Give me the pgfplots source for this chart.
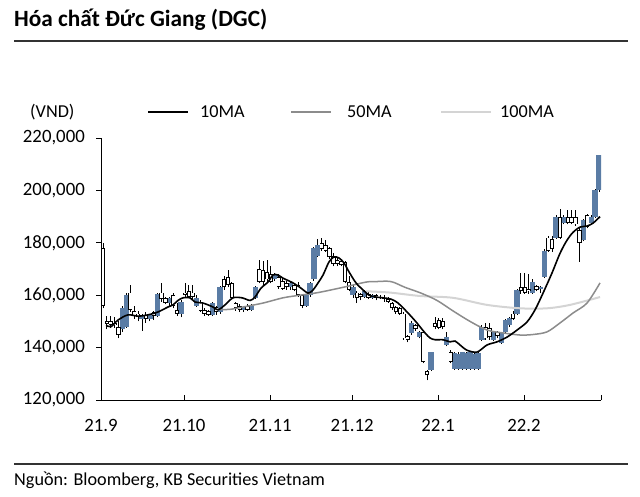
\documentclass[border=0pt]{standalone}
\usepackage{fontspec}
\setmainfont{Carlito}
\usepackage{pgfplots}
\usepackage{pgfplotstable}
\pgfplotsset{compat=1.18}
\definecolor{candleblue}{RGB}{90,124,165}
\definecolor{magray}{RGB}{140,140,140}
\definecolor{malight}{RGB}{212,212,212}

% up (blue) candles: x o h l c
\pgfplotstableread{
x o h l c
5.5 147000 156000 146000 155000
6.5 148000 161000 147500 160000
10.5 151000 153000 146500 152000
12.5 151000 153000 150000 152500
14.5 152000 161000 151500 160500
17.5 157000 159500 156000 159000
20.5 153000 158000 151500 157500
24.5 156000 160000 155500 159000
28.5 152500 157500 152000 157000
30.5 153500 163500 153000 163000
36.5 154500 156000 153500 155500
38.5 154500 156500 154000 156000
39.5 159000 163500 158500 163000
44.5 166000 168500 165500 168000
48.5 163000 165000 162000 164500
52.5 156000 160500 155500 160000
53.5 160000 165000 159500 164500
54.5 166000 178500 165500 178000
55.5 175000 181500 174500 179000
64.5 160000 164000 159000 163000
67.5 159500 162000 159000 161500
69.5 159000 160500 158500 160000
71.5 159000 160000 158500 159500
79.5 145500 150000 145000 149500
81.5 144000 146500 143500 146000
84.5 131500 138500 131000 138300
88.5 141000 146000 140500 144000
90.5 132000 138300 131500 138000
91.5 132000 138300 131500 137500
92.5 132000 138300 131500 138300
93.5 132000 138300 131500 137800
94.5 132000 138300 131500 138300
95.5 132000 138300 131500 137500
96.5 132000 138300 131500 138000
97.5 143000 148500 142500 148000
100.5 143000 146500 142500 146000
102.5 141800 146000 141500 145600
103.5 146000 151000 145500 150500
104.5 148600 151500 148000 151300
106.5 153000 162500 152500 162000
110.5 161000 166000 160500 165000
112.5 162500 163500 161000 163000
113.5 167000 177500 166500 177000
116.5 182000 190500 181500 190000
118.5 187500 190500 187000 190000
123.5 181000 189000 180500 188700
125.5 187500 190500 187000 190000
126.5 190000 200500 189500 200000
127.5 200000 213700 199500 213500
}\updata

% down (white) candles: x o h l c
\pgfplotstableread{
x o h l c
0.5 178000 180000 155000 156000
1.5 150000 152000 147000 149000
2.5 150000 152000 147500 148500
3.5 149500 151500 147500 148500
4.5 148000 150000 143500 145000
7.5 161000 164000 153500 154500
8.5 154000 156000 151000 152000
9.5 153000 154000 150000 151500
11.5 152500 153500 149500 151000
13.5 153500 154000 150500 152000
15.5 161000 164500 157500 158500
16.5 159000 159500 156500 157000
18.5 160000 161000 155000 156000
19.5 154500 157000 152000 153000
21.5 161000 164500 159000 160000
22.5 161500 164000 159000 159500
23.5 161000 164000 158500 159500
25.5 157500 158000 153500 154000
26.5 154500 155000 152000 153000
27.5 154000 154500 152000 152500
29.5 155500 156000 152500 153500
31.5 166000 167500 162000 163000
32.5 167000 169500 163000 164000
33.5 164500 165000 158500 159000
34.5 157000 157500 154000 155000
35.5 156000 156500 153500 154500
37.5 156000 156500 154000 154500
40.5 170000 173500 164500 165000
41.5 169500 173000 164000 165000
42.5 169000 173500 165000 166000
43.5 168000 171000 164500 165000
45.5 167000 168000 162500 163000
46.5 165500 167000 162000 162500
47.5 164500 165500 162000 163000
49.5 164000 164500 161500 162000
50.5 164000 165000 159500 160000
51.5 160000 160500 155000 156000
56.5 180000 181800 177000 177500
57.5 179000 181000 176500 177000
58.5 178000 178500 174000 174500
59.5 175000 176000 171000 172000
60.5 173500 174500 171000 172000
61.5 173000 173500 171000 171500
62.5 172500 173000 164500 165000
63.5 165000 167500 161500 162000
65.5 161000 161500 157000 159000
66.5 160500 161000 158000 159500
68.5 160500 161500 158500 159000
70.5 160000 160500 158000 159000
72.5 159500 160000 157500 158500
73.5 158500 159500 157000 157500
74.5 157000 157500 154500 155000
75.5 155500 156000 153000 153500
76.5 155000 155500 152500 153000
77.5 153000 153500 143000 143500
78.5 144500 145000 142000 143000
80.5 148500 149000 146500 147000
82.5 146000 146500 134000 134500
83.5 131000 131500 127500 129500
85.5 149500 151500 147000 148000
86.5 150500 151300 147000 147500
87.5 150000 151300 147000 148000
89.5 138300 139000 134000 134500
98.5 148000 149400 143000 143500
99.5 147500 149400 143000 144000
101.5 146000 146500 143500 144500
105.5 153000 154000 150500 151000
107.5 163000 168500 160500 161500
108.5 163000 168500 160500 161000
109.5 162500 168000 160500 161500
111.5 163500 164000 161500 162000
114.5 182000 182500 176500 177000
115.5 181500 182500 176500 177500
117.5 190000 193000 181500 182000
119.5 190000 192500 187000 187500
120.5 190000 192500 187000 187500
121.5 190000 192500 186500 187000
122.5 185000 185500 172700 180000
124.5 190600 191000 185500 186000
}\downdata

\pgfplotstableread{
x y
1.3 148500
2.56 148000
4.35 150500
6.91 152500
9.47 152000
12.03 152500
14.59 153600
17.15 155500
18.43 156300
19.71 158000
20.99 159000
22.79 159000
24.07 157400
26.11 157000
28.67 155500
29.95 154400
31.75 156300
33.79 159000
36.1 159000
38.15 158000
39.43 159300
40.96 162700
42.75 165000
44.03 167700
45.31 167700
46.6 166500
49.15 164700
51.2 162700
53.0 160800
54.28 162000
55.56 164700
56.84 167700
58.37 172700
59.65 174600
60.93 174200
62.21 172300
63.49 168900
65.28 164700
67.08 162000
68.61 160000
70.4 159300
72.2 159000
74.24 158500
76.04 157000
78.6 153200
80.65 149800
82.95 145600
84.23 143700
85.51 143000
87.56 143000
89.35 142200
90.63 142500
91.91 141000
93.7 139000
96.26 138300
98.82 141000
101.38 142200
103.94 144000
106.5 146700
109.06 149800
111.11 154400
113.16 160800
115.46 168500
117.51 176000
119.3 181000
120.84 184000
122.63 186000
124.42 186400
125.96 187500
127.75 190000
}\maten

\pgfplotstableread{
x y
29.7 154500
33.0 154600
36.35 155500
41.47 157000
46.6 159000
50.95 160000
55.56 161000
61.96 163000
67.84 165000
70.4 165200
74.24 165200
77.83 163000
81.92 160800
86.02 158000
90.12 154000
94.47 150000
98.82 146700
102.92 145600
107.27 144800
110.6 145000
114.18 146000
117.51 149400
120.84 153200
124.42 157000
127.75 164700
}\mafifty

\pgfplotstableread{
x y
67.84 161500
73.99 161000
81.67 159700
90.12 159000
98.82 156300
107.27 155000
114.18 155000
120.07 156300
127.75 159300
}\mahundred

\begin{document}
\begin{tikzpicture}[x=1pt,y=1pt]
\path[use as bounding box] (0pt,0pt) rectangle (640pt,496pt);
\node[anchor=base west, font=\fontsize{23.3}{26}\selectfont\bfseries, inner sep=0] at (14pt,469pt) {Hóa chất Đức Giang (DGC)};
\draw[line width=1.2pt, black!80] (14pt,455pt) -- (628pt,455pt);
\draw[line width=1.2pt, black!80] (14pt,32pt) -- (628pt,32pt);
\node[anchor=base west, font=\fontsize{18.2}{20}\selectfont, inner sep=0] at (14pt,10.5pt) {Nguồn: Bloomberg, KB Securities Vietnam};
% legend
\node[anchor=west, font=\fontsize{18.2}{20}\selectfont, inner sep=0] at (30pt,384pt) {(VND)};
\draw[black, line width=1.6pt] (148pt,384pt) -- (188pt,384pt);
\node[anchor=west, font=\fontsize{18.2}{20}\selectfont, inner sep=0] at (200pt,384pt) {10MA};
\draw[magray, line width=1.6pt] (291pt,384pt) -- (331pt,384pt);
\node[anchor=west, font=\fontsize{18.2}{20}\selectfont, inner sep=0] at (347pt,384pt) {50MA};
\draw[malight, line width=2pt] (441pt,384pt) -- (491pt,384pt);
\node[anchor=west, font=\fontsize{18.2}{20}\selectfont, inner sep=0] at (500pt,384pt) {100MA};

\begin{axis}[
  scale only axis, width=500pt, height=262pt,
  at={(101pt,96pt)}, anchor=south west,
  xmin=0, xmax=128, ymin=120000, ymax=220000,
  scaled y ticks=false, scaled x ticks=false,
  axis x line*=bottom, axis y line*=left,
  axis line style={-, line width=0.8pt, black},
  xtick={0,21.25,43.3,64.3,86.3,108.3,128},
  xticklabels={21.9,21.10,21.11,21.12,22.1,22.2,{}},
  ytick={120000,140000,160000,180000,200000,220000},
  yticklabels={{120,000},{140,000},{160,000},{180,000},{200,000},{220,000}},
  tick align=inside, major tick length=5pt,
  tick style={black, line width=0.8pt},
  ytick style={xshift=-5pt},
  tick label style={font=\fontsize{18.8}{20}\selectfont, inner sep=0pt},
  xticklabel shift=19pt, yticklabel shift=16pt,
]
% wicks
\addplot[draw=none, mark=none, forget plot, error bars/.cd, y dir=plus, y explicit, error mark=none,
  error bar style={draw=black, line width=0.9pt}]
  table[x=x, y=l, y error plus expr=\thisrow{h}-\thisrow{l}] {\downdata};
\addplot[draw=none, mark=none, forget plot, error bars/.cd, y dir=plus, y explicit, error mark=none,
  error bar style={draw=black, line width=0.9pt}]
  table[x=x, y=l, y error plus expr=\thisrow{h}-\thisrow{l}] {\updata};
% blue bodies
\addplot[draw=none, mark=none, forget plot, error bars/.cd, y dir=plus, y explicit, error mark=none,
  error bar style={draw=candleblue, line width=5.4pt}]
  table[x=x, y=o, y error plus expr=\thisrow{c}-\thisrow{o}] {\updata};
% white bodies
\addplot[draw=none, mark=none, forget plot, error bars/.cd, y dir=plus, y explicit, error mark=none,
  error bar style={draw=black, line width=4.2pt}]
  table[x=x, y=c, y error plus expr=\thisrow{o}-\thisrow{c}] {\downdata};
\addplot[draw=none, mark=none, forget plot, error bars/.cd, y dir=plus, y explicit, error mark=none,
  error bar style={draw=white, line width=2.6pt}]
  table[x=x, y expr=\thisrow{c}+350, y error plus expr=\thisrow{o}-\thisrow{c}-700] {\downdata};
% moving averages
\addplot[malight, line width=2pt, smooth, mark=none] table[x=x, y=y] {\mahundred};
\addplot[magray, line width=1.5pt, smooth, mark=none] table[x=x, y=y] {\mafifty};
\addplot[black, line width=1.6pt, smooth, mark=none] table[x=x, y=y] {\maten};
\end{axis}
\end{tikzpicture}
\end{document}
